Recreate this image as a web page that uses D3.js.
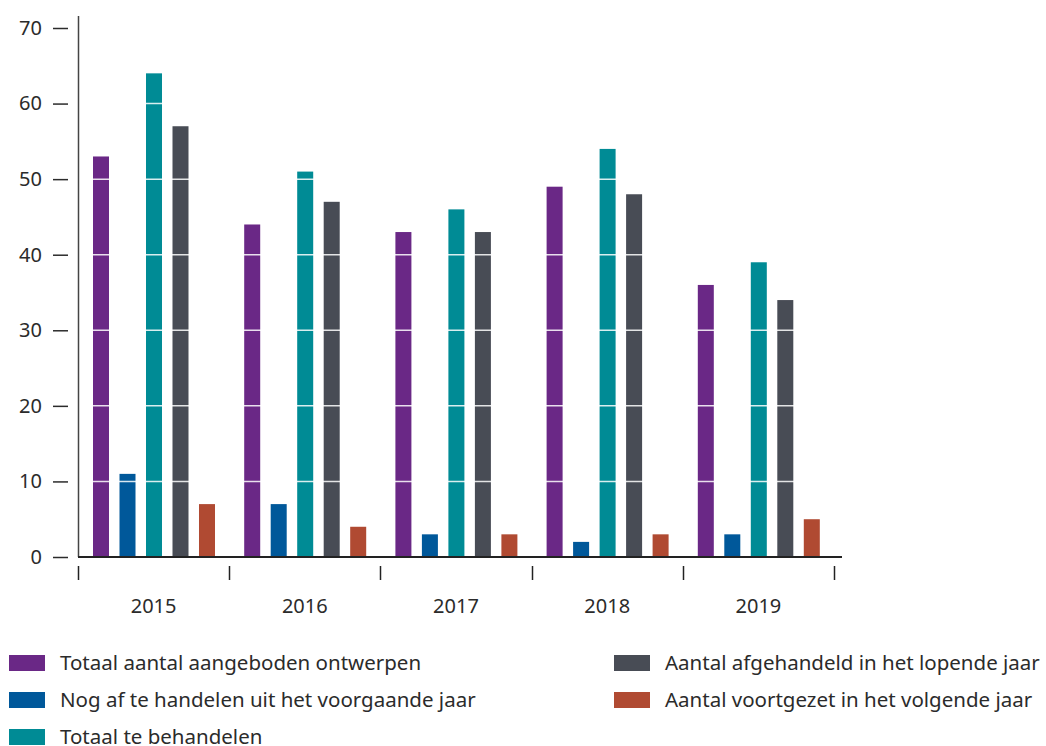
<!DOCTYPE html>
<html>
<head>
<meta charset="utf-8">
<script src="https://cdn.jsdelivr.net/npm/d3@7"></script>
<style>
  body { margin: 0; background: #fff; }
  svg text { font-family: "Noto Sans", sans-serif; fill: #2b2b2b; }
</style>
</head>
<body>
<div class="chart"></div>
<script>

var years = ["2015", "2016", "2017", "2018", "2019"];
var series = [
    "Totaal aantal aangeboden ontwerpen",
    "Nog af te handelen uit het voorgaande jaar",
    "Totaal te behandelen",
    "Aantal afgehandeld in het lopende jaar",
    "Aantal voortgezet in het volgende jaar"
];
var aangeboden = [53, 44, 43, 49, 36];
var nogAf = [11, 7, 3, 2, 3];
var teBehandelen = [64, 51, 46, 54, 39];
var afgehandeld = [57, 47, 43, 48, 34];
var voortgezet = [7, 4, 3, 3, 5];
var yTicks = [0, 10, 20, 30, 40, 50, 60, 70];
var colors = ["#6a2886", "#00589a", "#008b95", "#484c55", "#b04a32"];

var width = 1046;
var height = 746;
var values = [aangeboden, nogAf, teBehandelen, afgehandeld, voortgezet];

var data = [];
years.forEach((y, i) => {
    series.forEach((s, j) => {
        data.push({ year: y, serie: s, value: values[j][i], color: colors[j] });
    });
});

var svg = d3.select('.chart')
    .append('svg')
    .attr('width', width)
    .attr('height', height);

var scaleX = d3.scaleBand()
    .domain(years)
    .range([78, 834]);

var scaleInner = d3.scaleBand()
    .domain(series)
    .range([15, 137])
    .paddingInner(0.396)
    .paddingOuter(0);

var scaleY = d3.scaleLinear()
    .domain([0, 70])
    .range([557, 28]);

// bars
svg.selectAll('rect.bar')
    .data(data)
    .enter()
    .append('rect')
    .attr('class', 'bar')
    .attr('x', d => scaleX(d.year) + scaleInner(d.serie))
    .attr('y', d => scaleY(d.value))
    .attr('width', scaleInner.bandwidth())
    .attr('height', d => scaleY(0) - scaleY(d.value))
    .attr('fill', d => d.color);

// white gridlines over the bars
svg.selectAll('line.grid')
    .data(yTicks.filter(t => t > 0))
    .enter()
    .append('line')
    .attr('class', 'grid')
    .attr('x1', 79)
    .attr('x2', 842)
    .attr('y1', d => scaleY(d))
    .attr('y2', d => scaleY(d))
    .attr('stroke', '#fff')
    .attr('stroke-opacity', 0.85)
    .attr('stroke-width', 1.5);

// y axis
var axisY = d3.axisLeft(scaleY)
    .tickValues(yTicks)
    .tickSize(15)
    .tickPadding(11);

var gy = svg.append('g')
    .attr('transform', 'translate(68,0)')
    .call(axisY);
gy.select('.domain').remove();
gy.selectAll('.tick line').attr('stroke', '#2b2b2b').attr('stroke-width', 1.5);
gy.selectAll('.tick text')
    .style('font-size', '20px')
    .attr('fill', '#2b2b2b');

svg.append('line')
    .attr('x1', 78.5).attr('x2', 78.5)
    .attr('y1', 16).attr('y2', scaleY(0))
    .attr('stroke', '#444')
    .attr('stroke-width', 1.5);

svg.append('line')
    .attr('x1', 78).attr('x2', 842)
    .attr('y1', scaleY(0)).attr('y2', scaleY(0))
    .attr('stroke', '#222')
    .attr('stroke-width', 2);

// x axis ticks and labels
var edges = years.map(y => scaleX(y)).concat([scaleX(years[years.length - 1]) + scaleX.bandwidth()]);
svg.selectAll('line.xtick')
    .data(edges)
    .enter()
    .append('line')
    .attr('class', 'xtick')
    .attr('x1', d => Math.round(d) + 0.5)
    .attr('x2', d => Math.round(d) + 0.5)
    .attr('y1', 566)
    .attr('y2', 580)
    .attr('stroke', '#222')
    .attr('stroke-width', 1.5);

svg.selectAll('text.year')
    .data(years)
    .enter()
    .append('text')
    .attr('class', 'year')
    .attr('x', d => scaleX(d) + scaleX.bandwidth() / 2)
    .attr('y', 613)
    .style('text-anchor', 'middle')
    .style('font-size', '20px')
    .text(d => d);

// legend
var legendPos = [
    { x: 9, y: 655 }, { x: 9, y: 692 }, { x: 9, y: 729 },
    { x: 614, y: 655 }, { x: 614, y: 692 }
];

var legend = svg.selectAll('g.legend')
    .data(series)
    .enter()
    .append('g')
    .attr('class', 'legend')
    .attr('transform', (d, i) => 'translate(' + legendPos[i].x + ',' + legendPos[i].y + ')');

legend.append('rect')
    .attr('width', 36)
    .attr('height', 16)
    .attr('fill', (d, i) => colors[i]);

legend.append('text')
    .attr('x', 51)
    .attr('y', 15)
    .style('font-size', '20.5px')
    .text(d => d);

</script>
</body>
</html>
